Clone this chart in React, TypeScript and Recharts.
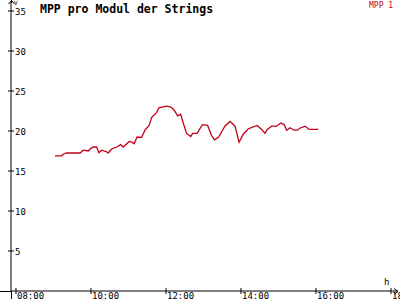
import React from 'react';
import { LineChart, Line, XAxis, YAxis } from 'recharts';

// time of day in decimal hours
const hours = [
  9.04, 9.22, 9.26, 9.35, 9.71, 9.79, 9.93, 9.99, 10.06, 10.15, 10.21, 10.29, 10.42, 10.46,
  10.55, 10.69, 10.79, 10.86, 11.02, 11.09, 11.15, 11.23, 11.35, 11.44, 11.55, 11.62, 11.75,
  11.81, 12.02, 12.13, 12.22, 12.31, 12.39, 12.46, 12.55, 12.66, 12.71, 12.83, 12.97, 13.11,
  13.22, 13.29, 13.4, 13.57, 13.71, 13.84, 13.95, 14.06, 14.19, 14.29, 14.43, 14.55, 14.64,
  14.7, 14.82, 14.95, 15.06, 15.15, 15.22, 15.31, 15.41, 15.5, 15.59, 15.71, 15.82, 16.06,
];

const mpp = [
  16.9, 16.9, 17.1, 17.25, 17.25, 17.6, 17.5, 17.8, 18.0, 18.0, 17.3, 17.6, 17.4, 17.25,
  17.75, 18.0, 18.3, 18.0, 18.7, 18.6, 18.4, 19.25, 19.2, 20.1, 20.7, 21.7, 22.3,
  22.9, 23.1, 23.0, 22.6, 21.9, 22.1, 21.0, 19.7, 19.3, 19.7, 19.7, 20.8, 20.7,
  19.4, 18.9, 19.2, 20.6, 21.2, 20.6, 18.6, 19.6, 20.25, 20.45, 20.7, 20.2, 19.7,
  20.2, 20.6, 20.6, 21.0, 20.8, 20.1, 20.4, 20.1, 20.1, 20.4, 20.6, 20.2, 20.2,
];

const xTicks = [8, 10, 12, 14, 16, 18];
const yTicks = [5, 10, 15, 20, 25, 30, 35];

const data = hours.map((h, i) => ({ h, v: mpp[i] }));

const FONT = '"DejaVu Sans Mono", monospace';
const RED = '#c00018';

const fmtHour = (h: number) => `${String(h).padStart(2, '0')}:00`;

const YTick = (props: any) => {
  const { x, y, payload } = props;
  return (
    <g>
      <line x1={x - 3} x2={x + 3} y1={y} y2={y} stroke="#000" />
      <text x={x + 4} y={y + 4} fontSize={9} fontFamily={FONT} fill="#000">
        {payload.value}
      </text>
    </g>
  );
};

const XTick = (props: any) => {
  const { x, y, payload } = props;
  return (
    <g>
      <line x1={x} x2={x} y1={y - 3} y2={y + 3} stroke="#000" />
      <text x={x + 1} y={y + 8} fontSize={9} fontFamily={FONT} fill="#000">
        {fmtHour(payload.value)}
      </text>
    </g>
  );
};

export default function App() {
  return (
    <div style={{ position: 'absolute', left: 0, top: 0, width: 400, height: 300, background: '#fff' }}>
      <LineChart width={400} height={300} data={data} margin={{ top: 2, right: 2, left: 0, bottom: 0 }}>
        <XAxis
          dataKey="h"
          type="number"
          domain={[7.867, 18.187]}
          ticks={xTicks}
          tick={<XTick />}
          tickLine={false}
          tickSize={0}
          tickMargin={0}
          height={9}
          stroke="#000"
          allowDataOverflow
        />
        <YAxis
          type="number"
          domain={[0, 36.125]}
          ticks={yTicks}
          tick={<YTick />}
          tickLine={false}
          tickSize={0}
          tickMargin={0}
          width={11}
          stroke="#000"
          allowDataOverflow
        />
        <Line
          dataKey="v"
          type="linear"
          stroke={RED}
          strokeWidth={1.3}
          dot={false}
          isAnimationActive={false}
        />
      </LineChart>
      <svg width={400} height={300} style={{ position: 'absolute', left: 0, top: 0, pointerEvents: 'none' }}>
        {/* axis extensions and arrow heads */}
        <line x1={0} x2={11} y1={291.5} y2={291.5} stroke="#000" />
        <line x1={11.5} x2={11.5} y1={291} y2={299} stroke="#000" />
        <line x1={11.5} x2={11.5} y1={0} y2={3} stroke="#000" />
        <polyline points="8.5,4 11.5,0.5 14.5,4" fill="none" stroke="#000" />
        <polyline points="394,288.5 398,291.5 394,294.5" fill="none" stroke="#000" />
        <text x={14} y={5} fontSize={6} fontFamily={FONT} fill="#000">V</text>
        <text x={384} y={285} fontSize={9} fontFamily={FONT} fill="#000">h</text>
        <text x={40} y={13} fontSize={11.5} fontWeight="bold" fontFamily={FONT} fill="#000">
          MPP pro Modul der Strings
        </text>
        <text x={369} y={8} fontSize={8} fontFamily={FONT} fill={RED}>MPP 1</text>
      </svg>
    </div>
  );
}
